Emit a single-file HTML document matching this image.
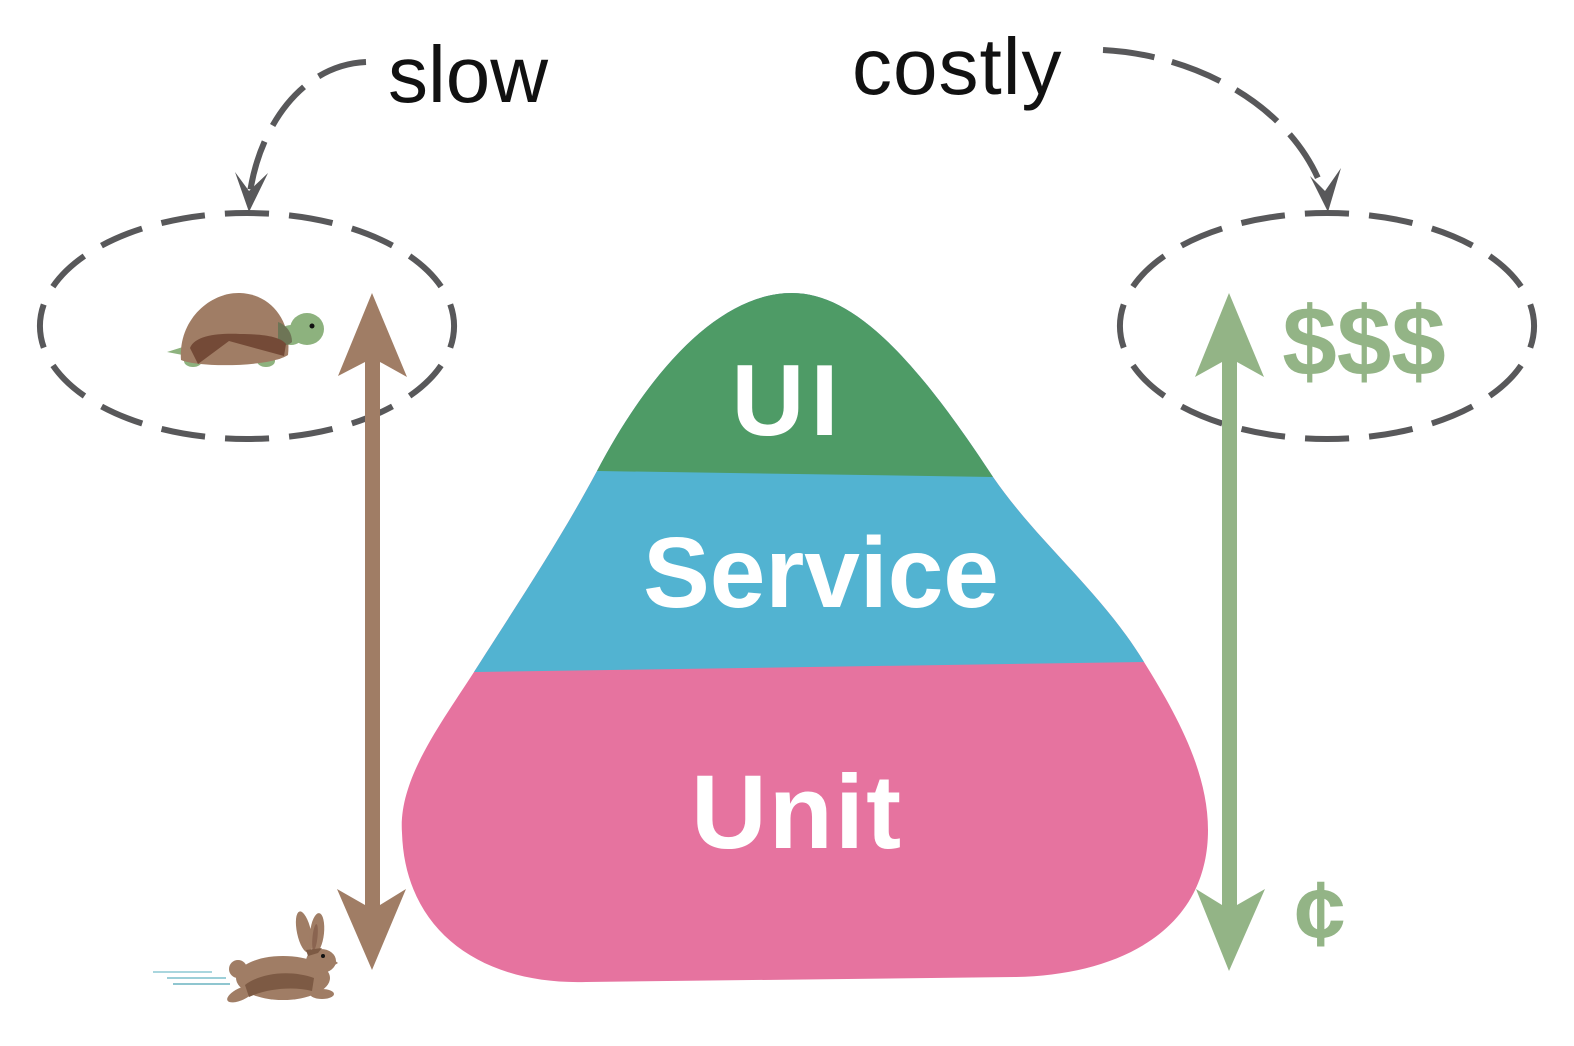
<!DOCTYPE html>
<html>
<head>
<meta charset="utf-8">
<style>
html,body{margin:0;padding:0;background:#fff;}
svg{display:block;}
</style>
</head>
<body>
<svg width="1574" height="1046" viewBox="0 0 1574 1046" xmlns="http://www.w3.org/2000/svg">
<rect width="1574" height="1046" fill="#fff"/>
<defs>
<clipPath id="pyr">
<path d="M792,293 C850,293 910,350 993,477 C1040,545 1100,590 1144,662 C1175,712 1208,770 1208,830 C1208,930 1120,975 1015,977 L586,982 C480,985 405,930 402,833 C398,780 440,725 474,672 C520,600 560,540 597,471 C650,370 720,293 792,293 Z"/>
</clipPath>
</defs>

<!-- pyramid -->
<g clip-path="url(#pyr)">
<rect x="350" y="250" width="900" height="800" fill="#e6739f"/>
<polygon points="300,674.6 1300,659.7 1300,250 300,250" fill="#52b3d1"/>
<polygon points="300,466.5 1300,481.6 1300,250 300,250" fill="#4e9b66"/>
</g>
<g font-family="'Liberation Sans', sans-serif" font-weight="bold" fill="#fff" text-anchor="middle">
<text x="788" y="435" font-size="101" letter-spacing="6">UI</text>
<text x="821" y="607" font-size="100">Service</text>
<text x="797" y="848" font-size="105" letter-spacing="2">Unit</text>
</g>

<!-- dashed ellipses -->
<path d="M247,213 A207,113 0 1 1 247,439 A207,113 0 1 1 247,213" fill="none" stroke="#58585a" stroke-width="6" pathLength="1024" stroke-dasharray="44 20" stroke-dashoffset="22"/>
<path d="M1327,213 A207,113 0 1 1 1327,439 A207,113 0 1 1 1327,213" fill="none" stroke="#58585a" stroke-width="6" pathLength="1024" stroke-dasharray="44 20" stroke-dashoffset="22"/>

<!-- dashed curves -->
<path d="M366,62 C300,65 257,130 249,200" fill="none" stroke="#58585a" stroke-width="6" stroke-dasharray="50 18"/>
<polygon points="249,212 235,172 249,191 268,173" fill="#58585a"/>
<path d="M1103,50 C1200,55 1300,110 1326,200" fill="none" stroke="#58585a" stroke-width="6" stroke-dasharray="52 18"/>
<polygon points="1328,212 1310,176 1325,191 1341,168" fill="#58585a"/>

<!-- handwriting labels -->
<g font-family="'Liberation Sans', sans-serif" fill="#111" font-size="80">
<text x="388" y="102">slow</text>
<text x="852" y="94" letter-spacing="1">costly</text>
</g>

<!-- brown arrow -->
<g fill="#a07d65">
<rect x="365" y="355" width="15" height="550"/>
<polygon points="372,293 407,377 380,362 365,362 338,376"/>
<polygon points="372,970 406,889 380,905 365,905 337,889"/>
</g>

<!-- green arrow -->
<g fill="#93b486">
<rect x="1222" y="355" width="15" height="550"/>
<polygon points="1229,293 1264,377 1237,362 1222,362 1195,377"/>
<polygon points="1229,971 1265,889 1237,905 1222,905 1196,889"/>
</g>
<text x="1364" y="375" font-family="'Liberation Sans', sans-serif" font-weight="bold" font-size="98" fill="#93b486" text-anchor="middle">$$$</text>
<text x="1320" y="945" font-family="'Liberation Sans', sans-serif" font-weight="bold" font-size="92" fill="#93b486" text-anchor="middle">¢</text>

<!-- turtle -->
<g>
<ellipse cx="193" cy="361" rx="9" ry="6" fill="#8db27e"/>
<polygon points="167,352 186,346 188,356" fill="#8db27e"/>
<ellipse cx="266" cy="361" rx="9" ry="6" fill="#8db27e"/>
<ellipse cx="291" cy="335" rx="12" ry="10" fill="#8db27e"/>
<ellipse cx="307" cy="329" rx="17" ry="16" fill="#8db27e"/>
<path d="M181,360 C178,320 210,292 240,293 C270,294 292,320 288,355 C270,367 200,368 181,360 Z" fill="#a07d65"/>
<path d="M278,322 C286,325 292,332 292,342 C288,346 282,346 278,344 Z" fill="#6e7556"/>
<path d="M190,348 C195,335 220,333 240,334 C260,334 280,336 286,344 L284,356 L229,341 L198,364 Z" fill="#744a37"/>
<circle cx="312" cy="326" r="2.5" fill="#111"/>
</g>

<!-- rabbit -->
<g>
<line x1="153" y1="972" x2="212" y2="972" stroke="#a9d6de" stroke-width="2"/>
<line x1="167" y1="978" x2="226" y2="978" stroke="#9ccfd8" stroke-width="2"/>
<line x1="173" y1="984" x2="230" y2="984" stroke="#8fc6d0" stroke-width="2"/>
<circle cx="238" cy="969" r="9" fill="#a07d65"/>
<ellipse cx="241" cy="994" rx="15" ry="6" fill="#a07d65" transform="rotate(-25 241 994)"/>
<ellipse cx="283" cy="978" rx="47" ry="22" fill="#a07d65"/>
<path d="M245,985 C262,972 292,970 314,978 L312,991 C292,986 266,989 249,997 Z" fill="#7d5a44"/>
<ellipse cx="322" cy="994" rx="12" ry="5" fill="#a07d65"/>
<ellipse cx="304" cy="932" rx="7" ry="21" fill="#a07d65" transform="rotate(-12 304 932)"/>
<ellipse cx="317" cy="933" rx="7" ry="20" fill="#a07d65" transform="rotate(6 317 933)"/>
<ellipse cx="315" cy="937" rx="2.5" ry="13" fill="#8a6450" transform="rotate(6 315 937)"/>
<ellipse cx="321" cy="961" rx="15" ry="12" fill="#a07d65"/>
<path d="M330,957 L338,963 L330,968 Z" fill="#a07d65"/>
<path d="M306,950 L322,948 L318,953 L308,956 Z" fill="#7d5a44"/>
<circle cx="323" cy="956" r="2" fill="#111"/>
</g>
</svg>
</body>
</html>
